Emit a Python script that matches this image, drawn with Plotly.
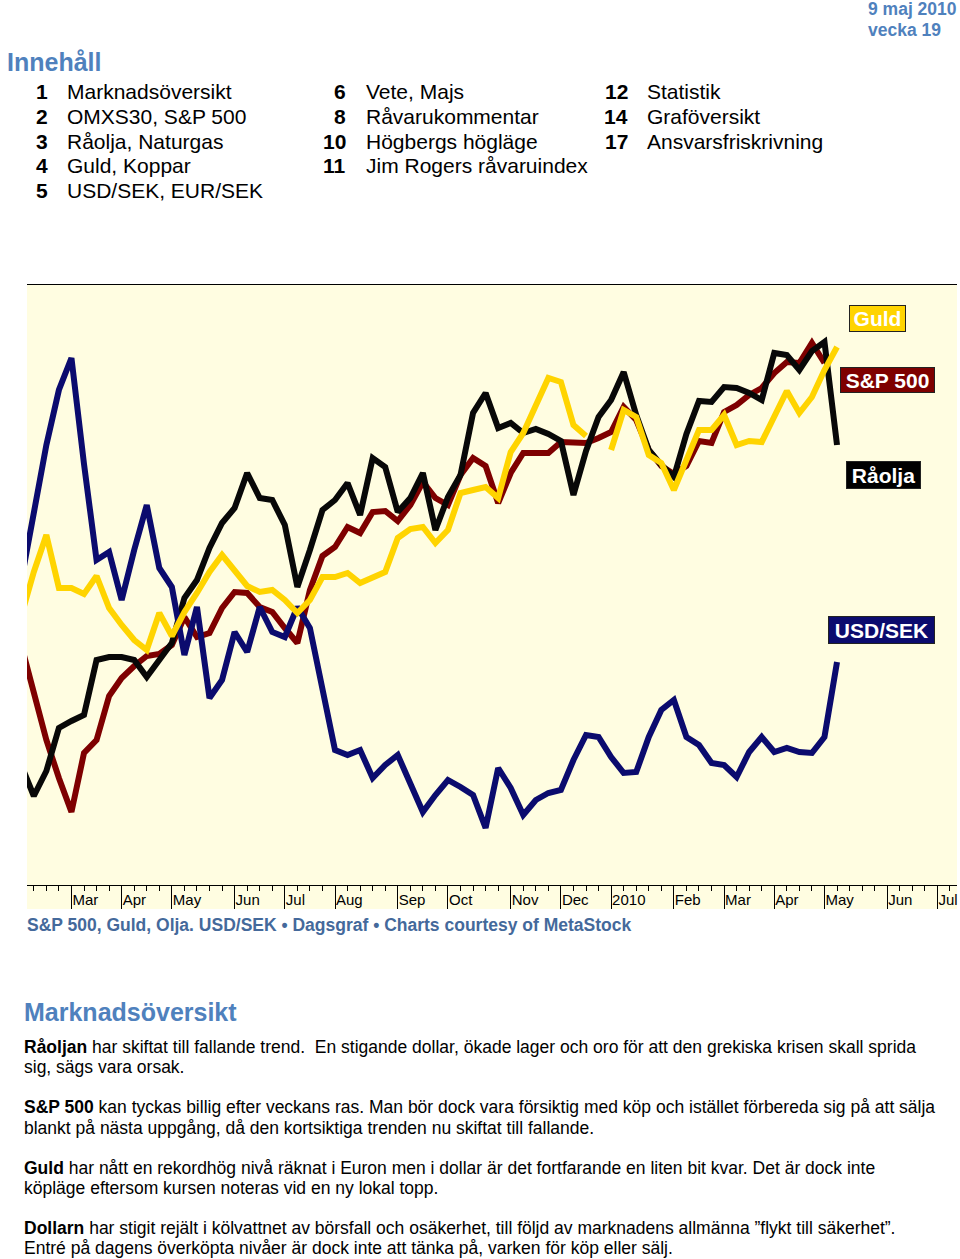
import pandas as pd
import plotly.graph_objects as go

# weekly closes (Fridays), values on a common 0-600 chart scale
weeks = pd.date_range(end="2010-05-07", periods=66, freq="W-FRI")

usd_sek = [304, 375, 440, 495, 527, 421, 325, 333, 285, 335,
           380, 317, 298, 230, 278, 187, 205, 253, 233, 278,
           253, 248, 278, 257, 193, 135, 130, 135, 107, 120,
           130, 100, 73, 90, 105, 98, 90, 57, 117, 97,
           70, 85, 92, 95, 125, 150, 148, 128, 112, 113,
           148, 175, 185, 148, 140, 122, 120, 108, 133, 148,
           133, 137, 133, 132, 148, 223]

raolja = [120, 89, 114, 157, 164, 170, 225, 228, 228, 225,
          208, 225, 242, 287, 305, 337, 362, 377, 412, 387,
          385, 360, 298, 335, 375, 385, 402, 370, 427, 418,
          373, 387, 412, 355, 388, 410, 472, 492, 457, 462,
          452, 456, 451, 444, 390, 434, 468, 485, 513, 470,
          435, 420, 408, 451, 484, 483, 498, 497, 492, 485,
          532, 530, 515, 534, 543, 440]

sp500 = [240, 191, 145, 107, 73, 132, 145, 189, 207, 219,
         229, 231, 240, 268, 248, 252, 277, 293, 292, 278,
         273, 257, 242, 295, 329, 338, 358, 352, 373, 374,
         364, 380, 403, 387, 380, 410, 427, 419, 382, 412,
         432, 432, 432, 443, 442, 442, 447, 453, 478, 465,
         435, 419, 411, 419, 444, 442, 473, 480, 490, 497,
         512, 523, 522, 542, 522, None]

guld = [269, 313, 350, 297, 297, 291, 309, 277, 260, 245,
        235, 272, 249, 273, 292, 313, 330, 315, 299, 293,
        295, 285, 272, 285, 308, 308, 312, 302, 307, 313,
        347, 356, 358, 342, 355, 392, 395, 398, 387, 433,
        452, 480, 507, 503, 460, 449, None, 435, 475, 468,
        430, 422, 395, 425, 455, 455, 470, 440, 444, 443,
        467, 494, 472, 488, 515, 538]

month_labels = ["Feb", "Mar", "Apr", "May", "Jun", "Jul", "Aug", "Sep", "Oct",
                "Nov", "Dec", "2010", "Feb", "Mar", "Apr", "May", "Jun", "Jul"]
month_starts = pd.date_range("2009-02-01", periods=len(month_labels), freq="MS")
# MetaStock marks a month at the bar of the week holding its first day
month_ticks = [m - pd.Timedelta(days=(m.weekday() + 1) % 7) + pd.Timedelta(days=5)
               for m in month_starts]

toc_cols = [
    (["1", "2", "3", "4", "5"],
     ["Marknadsöversikt", "OMXS30, S&P 500", "Råolja, Naturgas", "Guld, Koppar", "USD/SEK, EUR/SEK"]),
    (["6", "8", "10", "11"],
     ["Vete, Majs", "Råvarukommentar", "Högbergs högläge", "Jim Rogers råvaruindex"]),
    (["12", "14", "17"],
     ["Statistik", "Graföversikt", "Ansvarsfriskrivning"]),
]

body_lines = [
    "<b>Råoljan</b> har skiftat till fallande trend.  En stigande dollar, ökade lager och oro för att den grekiska krisen skall sprida",
    "sig, sägs vara orsak.",
    "",
    "<b>S&P 500</b> kan tyckas billig efter veckans ras. Man bör dock vara försiktig med köp och istället förbereda sig på att sälja",
    "blankt på nästa uppgång, då den kortsiktiga trenden nu skiftat till fallande.",
    "",
    "<b>Guld</b> har nått en rekordhög nivå räknat i Euron men i dollar är det fortfarande en liten bit kvar. Det är dock inte",
    "köpläge eftersom kursen noteras vid en ny lokal topp.",
    "",
    "<b>Dollarn</b> har stigit rejält i kölvattnet av börsfall och osäkerhet, till följd av marknadens allmänna ”flykt till säkerhet”.",
    "Entré på dagens överköpta nivåer är dock inte att tänka på, varken för köp eller sälj.",
]

BG = "#FFFDE1"
NAVY = "#0B0B6E"
DRED = "#7E0000"
GOLD = "#FFD400"
BLUE = "#4F81BD"
SLATE = "#44699B"
FONT = "Liberation Sans, Arial, sans-serif"

# plot area in page pixels
L, R, T, B = 27, 957, 285, 885


def px(x, y):
    return (x - L) / (R - L), (B - y) / (B - T)


fig = go.Figure()
fig.add_trace(go.Scatter(x=weeks, y=sp500, name="S&P 500", mode="lines",
                         line=dict(color=DRED, width=6)))
fig.add_trace(go.Scatter(x=weeks, y=raolja, name="Råolja", mode="lines",
                         line=dict(color="#080808", width=6)))
fig.add_trace(go.Scatter(x=weeks, y=usd_sek, name="USD/SEK", mode="lines",
                         line=dict(color=NAVY, width=6)))
fig.add_trace(go.Scatter(x=weeks, y=guld, name="Guld", mode="lines",
                         line=dict(color=GOLD, width=6)))

ann = []


def text(x, y, s, size, color="black", anchor="left", bold=False):
    ax, ay = px(x, y)
    ann.append(dict(xref="paper", yref="paper", x=ax, y=ay, text=f"<b>{s}</b>" if bold else s,
                    showarrow=False, xanchor=anchor, yanchor="middle",
                    font=dict(family=FONT, size=size, color=color)))


def tag(cx, cy, w, h, s, fill):
    ax, ay = px(cx, cy)
    ann.append(dict(xref="paper", yref="paper", x=ax, y=ay, text=f"<b>{s}</b>",
                    showarrow=False, xanchor="center", yanchor="middle",
                    width=w - 2, height=h - 2, bgcolor=fill, bordercolor="#222222",
                    borderwidth=1, borderpad=0,
                    font=dict(family=FONT, size=21, color="white")))


# header
text(866, 9, "9 maj 2010", 17.5, BLUE, bold=True)
text(866, 30, "vecka 19", 17.5, BLUE, bold=True)
text(5, 62, "Innehåll", 25, BLUE, bold=True)

num_right = [50, 348, 630]
item_left = [65, 364, 645]
for c, (nums, items) in enumerate(toc_cols):
    for i, (n, it) in enumerate(zip(nums, items)):
        y = 92 + i * 24.6
        text(num_right[c], y, n, 21, anchor="right", bold=True)
        text(item_left[c], y, it, 21)

# series tags
tag(877, 318, 57, 27, "Guld", GOLD)
tag(887.5, 380, 95, 26, "S&P 500", DRED)
tag(883.5, 474.5, 75, 28, "Råolja", "#000000")
tag(881.5, 629.5, 107, 28, "USD/SEK", NAVY)

# caption and commentary
text(25, 925, "S&P 500, Guld, Olja. USD/SEK • Dagsgraf • Charts courtesy of MetaStock", 17.5, SLATE, bold=True)
text(22, 1012, "Marknadsöversikt", 25, BLUE, bold=True)
y = 1047
for line in body_lines:
    if line:
        text(22, y, line, 17.5)
        y += 20.3
    else:
        y += 19.8

fig.update_layout(
    width=960, height=1259,
    margin=dict(l=L, r=960 - R, t=T, b=1259 - B),
    paper_bgcolor="white", plot_bgcolor=BG,
    showlegend=False,
    annotations=ann,
    shapes=[dict(type="rect", xref="paper", yref="paper", x0=0, x1=1,
                 y0=(B - 909) / (B - T), y1=0, fillcolor=BG, line_width=0, layer="below")],
    xaxis=dict(type="date", range=["2009-02-09 05:00", "2010-07-12 22:00"],
               tickvals=month_ticks, ticktext=month_labels,
               ticks="outside", ticklen=23, tickwidth=1, tickcolor="black",
               ticklabelposition="outside right", ticklabelstandoff=1,
               minor=dict(ticks="outside", ticklen=5, tickcolor="black",
                          dtick=7 * 24 * 3600 * 1000, tick0="2010-05-07"),
               showline=True, linecolor="black", linewidth=1, mirror=True,
               showgrid=False, zeroline=False,
               tickfont=dict(family=FONT, size=15, color="black")),
    yaxis=dict(range=[0, 600], visible=False, showgrid=False),
)

fig.write_html("out.html", config={"displayModeBar": False},
               post_script="document.body.style.margin='0';")
